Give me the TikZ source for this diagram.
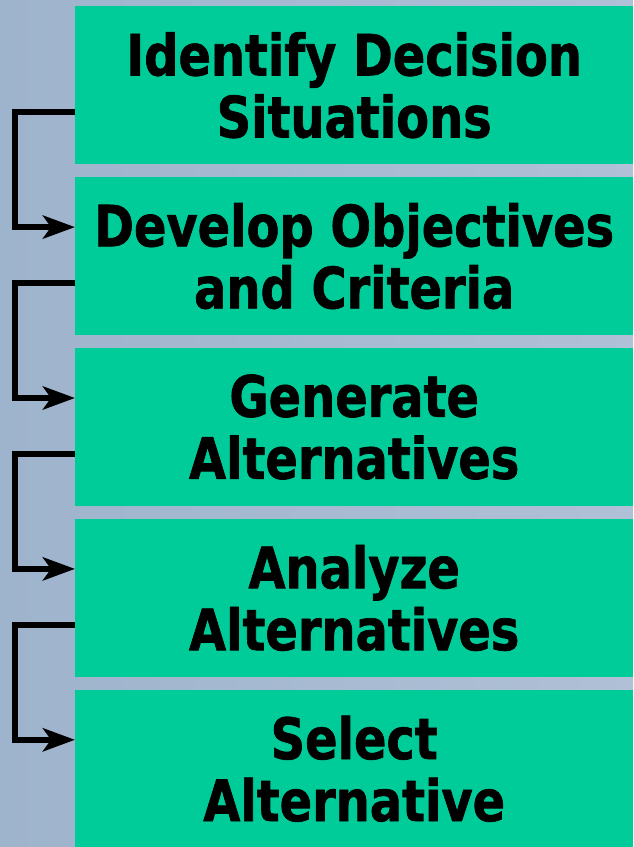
\documentclass[tikz,border=0pt]{standalone}
\usepackage{fontspec}
\usepackage{xcolor}
\usepackage{tikz}
\usetikzlibrary{positioning,arrows.meta}
\newfontfamily\stepfont{DejaVu Sans}[FakeStretch=0.84,BoldFeatures={FakeBold=1.2}]
\definecolor{stepgreen}{RGB}{0,204,153}
\definecolor{bgleft}{RGB}{158,180,204}
\definecolor{bgright}{RGB}{176,192,214}
\tikzset{stepbox/.style={fill=stepgreen,minimum width=558pt,minimum height=158pt,
    inner sep=0pt,align=center,font=\stepfont\bfseries\fontsize{57}{62}\selectfont},
    link/.style={draw=black,line width=6pt,-{Stealth[length=32pt,width=23pt,inset=8pt]}},
    node distance=12.5pt}

\begin{document}
\begin{tikzpicture}[x=1pt,y=1pt]
\useasboundingbox (0,0) rectangle (633,-847);
\clip (0,0) rectangle (633,-847);
\shade[left color=bgleft,right color=bgright] (0,0) rectangle (633,-847);
\node[stepbox,anchor=north west] (s1) at (75,-6) {Identify Decision\\Situations};
\node[stepbox,below=of s1] (s2) {Develop Objectives\\and Criteria};
\node[stepbox,below=of s2] (s3) {Generate\\Alternatives};
\node[stepbox,below=of s3] (s4) {Analyze\\Alternatives};
\node[stepbox,below=of s4] (s5) {Select\\Alternative};
% elbow arrows down the left side
\foreach \a/\b in {s1/s2,s2/s3,s3/s4,s4/s5}
  \draw[link] ([yshift=-27pt]\a.west) -- ++(-60,0) |- ([yshift=29pt]\b.west);
\end{tikzpicture}
\end{document}
